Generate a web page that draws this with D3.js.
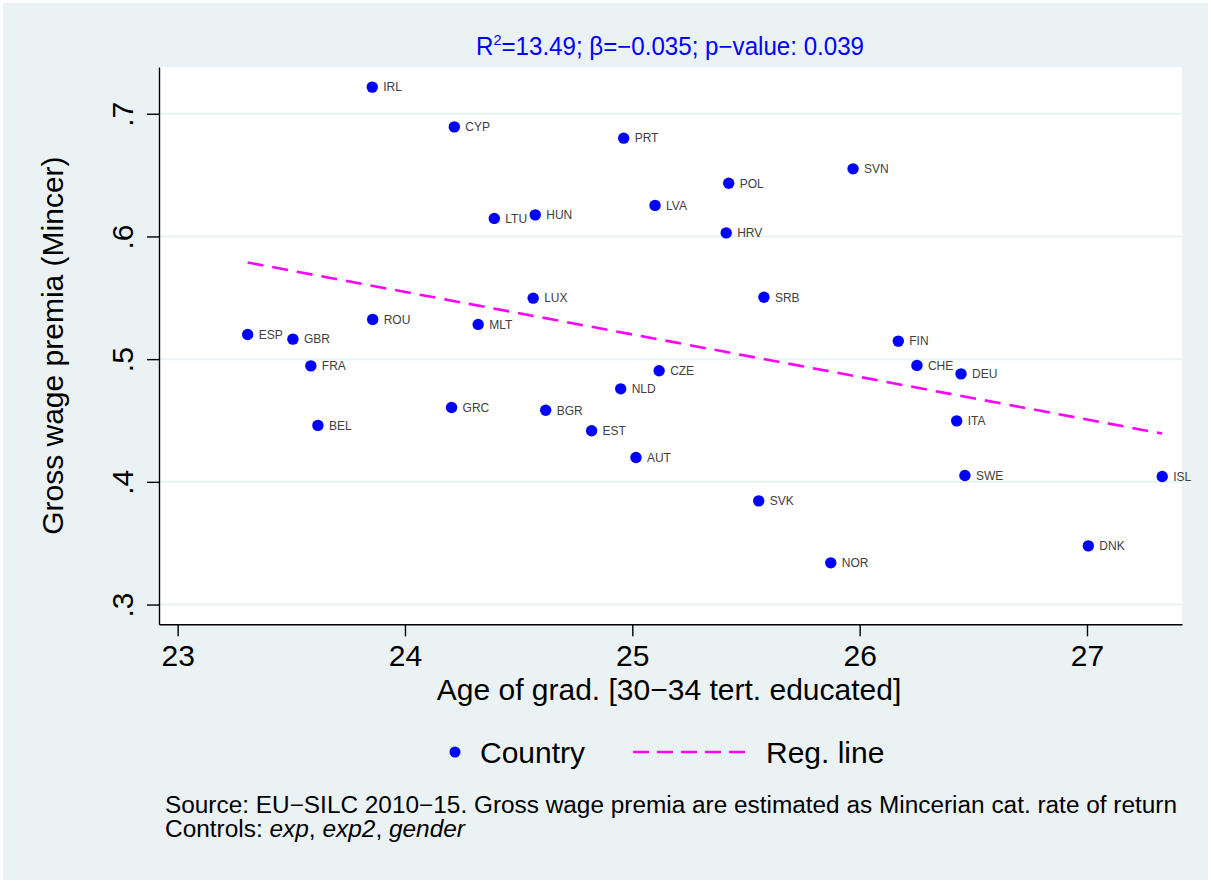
<!DOCTYPE html>
<html>
<head>
<meta charset="utf-8">
<script src="https://cdn.jsdelivr.net/npm/d3@7"></script>
<style>
  body { margin: 0; background: #fff; }
  text { font-family: "Liberation Sans", Arial, sans-serif; }
</style>
</head>
<body>
<div id="wrapper"></div>
<script>
// data
var countries = ["IRL","CYP","PRT","SVN","POL","LVA","HUN","LTU","HRV","SRB","LUX","ROU","MLT","ESP","GBR","FRA",
                 "FIN","CHE","DEU","CZE","NLD","GRC","BGR","BEL","EST","AUT","ITA","SWE","ISL","SVK","DNK","NOR"];
var ageGrad = [23.856,24.217,24.962,25.971,25.424,25.100,24.573,24.393,25.413,25.579,24.564,23.858,24.322,23.308,23.507,23.586,
               26.170,26.252,26.446,25.118,24.949,24.205,24.619,23.617,24.821,25.016,26.427,26.463,27.331,25.556,27.006,25.873];
var premia = [0.7217,0.6893,0.6801,0.6551,0.6434,0.6253,0.6176,0.6147,0.6029,0.5505,0.5497,0.5324,0.5283,0.5201,0.5163,0.4945,
              0.5147,0.4949,0.4880,0.4905,0.4758,0.4606,0.4584,0.4460,0.4416,0.4199,0.4497,0.4052,0.4044,0.3845,0.3478,0.3340];
var xTicks = [23, 24, 25, 26, 27];
var yTicks = [0.3, 0.4, 0.5, 0.6, 0.7];

function drawChart() {
  var width = 1211, height = 883;
  var pLeft = 159, pRight = 1182, pTop = 67, pBottom = 624.3;
  var font = '"Liberation Sans", Arial, sans-serif';

  var points = countries.map((c, i) => ({ name: c, x: ageGrad[i], y: premia[i] }));

  var x = d3.scaleLinear().domain([22.918, 27.418]).range([pLeft, pRight]);
  var y = d3.scaleLinear().domain([0.2839, 0.7381]).range([pBottom, pTop]);

  // OLS fit
  var mx = d3.mean(points, d => d.x), my = d3.mean(points, d => d.y);
  var slope = d3.sum(points, d => (d.x - mx) * (d.y - my)) / d3.sum(points, d => (d.x - mx) ** 2);
  var icpt = my - slope * mx;
  var fit = d3.extent(points, d => d.x).map(v => ({ x: v, y: icpt + slope * v }));

  const svg = d3.select('#wrapper').append('svg')
    .attr('width', width)
    .attr('height', height)
    .style('display', 'block');

  svg.append('rect').attr('x', 3).attr('y', 3).attr('width', width - 6).attr('height', height - 6)
    .attr('fill', '#EAF2F3');

  svg.append('rect').attr('x', pLeft).attr('y', pTop).attr('width', pRight - pLeft).attr('height', pBottom - pTop)
    .attr('fill', '#fff');

  // grid
  svg.append('g').selectAll('line').data(yTicks).join('line')
    .attr('x1', pLeft).attr('x2', pRight)
    .attr('y1', d => y(d)).attr('y2', d => y(d))
    .attr('stroke', '#EAF2F3').attr('stroke-width', 2);

  // axes
  const gx = svg.append('g').attr('transform', `translate(0,${pBottom})`)
    .call(d3.axisBottom(x).tickValues(xTicks).tickSize(12).tickSizeOuter(0).tickPadding(8).tickFormat(d3.format('d')));
  gx.selectAll('text').style('font-size', '30px').style('font-family', font).attr('fill', '#000');
  gx.selectAll('line, path').attr('stroke', '#000').attr('stroke-width', 1.4);

  const gy = svg.append('g').attr('transform', `translate(${pLeft},0)`)
    .call(d3.axisLeft(y).tickValues(yTicks).tickSize(12).tickSizeOuter(0)
      .tickFormat(d => d3.format('.1f')(d).replace(/^0/, '')));
  gy.selectAll('line, path').attr('stroke', '#000').attr('stroke-width', 1.4);
  gy.selectAll('text')
    .attr('x', 0).attr('y', -26).attr('dy', 0)
    .attr('transform', 'rotate(-90)')
    .attr('text-anchor', 'middle')
    .style('font-size', '30px').style('font-family', font).attr('fill', '#000');

  // axis titles
  svg.append('text').attr('x', 669).attr('y', 700).attr('text-anchor', 'middle')
    .style('font-size', '30px').text('Age of grad. [30\u221234 tert. educated]');
  svg.append('text').attr('transform', `translate(63,${(pTop + pBottom) / 2}) rotate(-90)`)
    .attr('text-anchor', 'middle').style('font-size', '30px').text('Gross wage premia (Mincer)');

  // title
  const title = svg.append('text').attr('x', 476).attr('y', 54.5)
    .attr('fill', '#0000FF').style('font-size', '25px')
    .attr('textLength', 388).attr('lengthAdjust', 'spacingAndGlyphs');
  title.append('tspan').text('R');
  title.append('tspan').attr('dy', -10).style('font-size', '15px').text('2');
  title.append('tspan').attr('dy', 10).text('=13.49; \u03B2=\u22120.035; p\u2212value: 0.039');

  // points
  svg.append('g').selectAll('circle').data(points).join('circle')
    .attr('cx', d => x(d.x)).attr('cy', d => y(d.y)).attr('r', 5.7)
    .attr('fill', '#0000FF');
  svg.append('g').selectAll('text').data(points).join('text')
    .attr('x', d => x(d.x) + 11).attr('y', d => y(d.y)).attr('dy', '0.36em')
    .attr('fill', '#404040').style('font-size', '12px')
    .text(d => d.name);

  // regression line
  const line = d3.line().x(d => x(d.x)).y(d => y(d.y));
  svg.append('path').datum(fit).attr('d', line)
    .attr('fill', 'none').attr('stroke', '#FF00FF').attr('stroke-width', 2.6)
    .attr('stroke-dasharray', '16,9');

  // legend
  const lg = svg.append('g');
  lg.append('circle').attr('cx', 455).attr('cy', 752).attr('r', 5.5).attr('fill', '#0000FF');
  lg.append('text').attr('x', 480).attr('y', 763).style('font-size', '30px').text('Country');
  lg.append('line').attr('x1', 633).attr('x2', 746).attr('y1', 752).attr('y2', 752)
    .attr('stroke', '#FF00FF').attr('stroke-width', 2.6).attr('stroke-dasharray', '16,8');
  lg.append('text').attr('x', 766).attr('y', 763).style('font-size', '30px').text('Reg. line');

  // note
  svg.append('text').attr('x', 165).attr('y', 813).style('font-size', '23px')
    .attr('textLength', 1012).attr('lengthAdjust', 'spacingAndGlyphs')
    .text('Source: EU\u2212SILC 2010\u221215. Gross wage premia are estimated as Mincerian cat. rate of return');
  const note2 = svg.append('text').attr('x', 165).attr('y', 837).style('font-size', '23px')
    .attr('textLength', 300).attr('lengthAdjust', 'spacingAndGlyphs');
  note2.append('tspan').text('Controls: ');
  note2.append('tspan').style('font-style', 'italic').text('exp');
  note2.append('tspan').text(', ');
  note2.append('tspan').style('font-style', 'italic').text('exp2');
  note2.append('tspan').text(', ');
  note2.append('tspan').style('font-style', 'italic').text('gender');
}
drawChart();
</script>
</body>
</html>
